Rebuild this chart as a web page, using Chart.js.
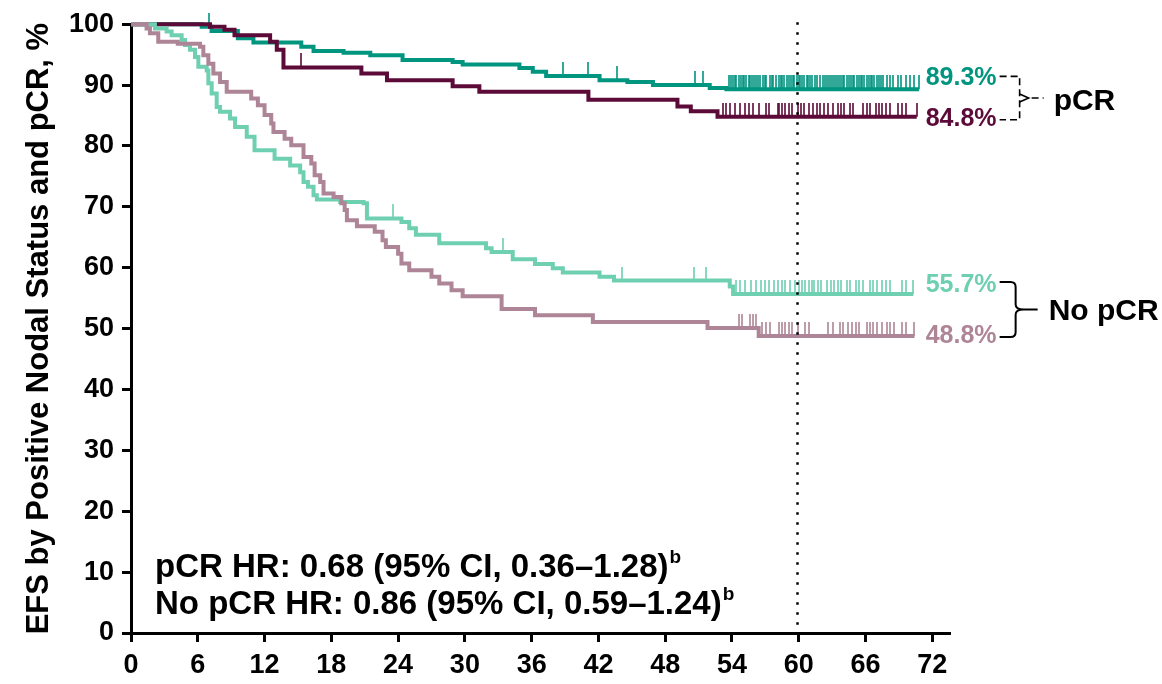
<!DOCTYPE html>
<html>
<head>
<meta charset="utf-8">
<script src="https://cdn.jsdelivr.net/npm/chart.js@4.4.1/dist/chart.umd.min.js"></script>
<style>
  html, body { margin: 0; padding: 0; background: #fff; }
  #wrap { width: 1162px; height: 684px; }
</style>
</head>
<body>
<div id="wrap"><canvas id="efsChart" width="1162" height="684"></canvas></div>
<script>
// axis ticks
let xTicks = [0, 6, 12, 18, 24, 30, 36, 42, 48, 54, 60, 66, 72];
let yTicks = [0, 10, 20, 30, 40, 50, 60, 70, 80, 90, 100];

// pCR, arm A (dark teal)
let pcrATimes = [0, 6.35, 7.24, 9.6, 11.0, 15.3, 16.4, 19.1, 21.5, 24.4, 28.9, 29.8, 34.9, 36.1, 37.3, 42.1, 44.6, 46.9, 52.0, 53.5, 70.8];
let pcrASurv  = [100, 99.6, 98.9, 97.7, 97.0, 96.3, 95.6, 95.3, 94.9, 94.1, 93.8, 93.4, 92.8, 92.2, 91.5, 90.8, 90.5, 90.0, 89.5, 89.3, 89.3];
let pcrACens  = [7.0, 38.8, 41.1, 43.7, 50.7, 51.4,
  53.7, 53.9, 54.1, 54.3, 54.4, 54.6, 54.8, 55.0, 55.1, 55.3, 55.5, 55.6, 55.8, 56.0, 56.2, 56.3, 56.5, 56.8, 57.0, 57.1,
  57.4, 57.6, 57.7, 58.0, 58.2, 58.4, 58.5, 58.7, 58.9, 59.1, 59.3, 59.5, 59.6, 59.8, 60.0, 60.1, 60.3, 60.5, 60.7, 60.8,
  61.0, 61.2, 61.5, 61.6, 61.9, 62.2, 62.4, 62.5, 62.7, 62.9, 63.1, 63.3, 63.4, 63.6, 63.8, 64.0, 64.1, 64.3, 64.5, 64.7,
  64.9, 65.0, 65.2, 65.4, 65.6, 65.7, 65.9, 66.1, 66.3, 66.5, 66.6, 66.8, 67.0, 67.2, 67.4, 67.6, 67.9, 68.2, 68.5, 68.9,
  69.2, 69.6, 70.0, 70.4, 70.8];

// pCR, arm B (maroon)
let pcrBTimes = [0, 7.1, 8.4, 9.3, 12.5, 13.1, 13.7, 20.7, 23.0, 28.9, 31.3, 41.1, 49.1, 50.3, 52.7, 70.6];
let pcrBSurv  = [100, 99.6, 99.1, 98.2, 97.1, 95.8, 92.9, 91.9, 90.8, 89.8, 88.9, 87.6, 86.5, 85.7, 84.8, 84.8];
let pcrBCens  = [15.3, 53.2, 53.5, 53.8, 54.3, 54.7, 55.2, 55.5, 55.9, 56.4, 57.1, 57.3, 58.1, 58.2, 58.5, 58.8, 59.1,
  59.4, 59.9, 60.2, 60.5, 60.9, 61.3, 61.6, 61.9, 62.3, 62.6, 63.1, 63.5, 63.8, 64.1, 64.6, 64.9, 65.8, 66.1, 66.4,
  66.9, 67.2, 67.5, 67.8, 68.2, 68.9, 69.3, 69.6, 70.6];

// No pCR, arm A (light teal)
let nopcrATimes = [0, 2.15, 3.2, 3.65, 4.55, 4.85, 5.3, 5.75, 6.05, 6.8, 6.95, 7.25, 7.7, 8.0, 8.9, 9.35, 10.4, 11.1,
  12.9, 14.3, 15.2, 15.5, 15.9, 16.4, 16.7, 18.8, 20.9, 21.2, 24.3, 25.0, 25.6, 27.7, 31.9, 32.4, 34.3, 36.3, 37.9,
  38.8, 42.1, 43.4, 53.8, 54.1, 70.3];
let nopcrASurv  = [100, 99.3, 98.8, 98.2, 97.4, 96.6, 95.8, 94.6, 93.0, 92.4, 90.3, 88.6, 86.4, 85.6, 84.5, 83.1, 81.5, 79.3,
  77.9, 76.8, 75.7, 74.1, 73.3, 71.9, 71.2, 70.8, 70.6, 68.1, 67.5, 66.5, 65.4, 64.0, 63.2, 62.6, 61.4, 60.6, 59.9,
  59.2, 58.5, 57.9, 56.9, 55.7, 55.7];
let nopcrACens  = [23.5, 33.4, 44.1, 50.6, 51.7, 54.4, 54.7, 55.2, 55.7, 56.2, 56.6, 57.0, 57.3, 57.8, 58.1, 58.5, 58.8,
  59.2, 59.7, 60.0, 60.3, 60.6, 60.9, 61.2, 61.4, 61.7, 62.0, 62.5, 62.9, 63.2, 63.5, 63.8, 64.3, 64.6, 65.1, 65.4,
  65.8, 66.4, 66.7, 67.0, 67.5, 67.8, 68.2, 69.3, 69.6, 70.3];

// No pCR, arm B (mauve)
let nopcrBTimes = [0, 1.4, 1.7, 2.45, 4.2, 6.2, 6.5, 6.95, 7.4, 8.0, 8.6, 10.8, 11.4, 12.0, 12.6, 12.8, 13.8, 14.4, 15.5,
  16.2, 16.5, 17.0, 17.3, 18.2, 18.9, 19.2, 19.4, 20.3, 21.9, 22.6, 22.9, 24.0, 24.3, 25.0, 27.0, 27.7, 28.8, 29.8,
  33.3, 36.3, 41.5, 51.8, 56.4, 70.4];
let nopcrBSurv  = [100, 99.3, 98.5, 97.1, 96.8, 96.3, 94.9, 93.5, 91.9, 90.5, 88.9, 87.8, 86.7, 85.1, 83.7, 82.3, 81.2, 80.1, 78.2,
  77.1, 75.2, 74.1, 72.2, 71.6, 70.6, 69.5, 67.8, 66.8, 65.9, 64.5, 63.4, 62.3, 60.7, 59.6, 58.5, 57.4, 56.3, 55.3,
  53.2, 52.2, 51.1, 50.1, 48.8, 48.8];
let nopcrBCens  = [54.6, 54.9, 55.6, 55.9, 56.2, 56.7, 57.1, 57.4, 58.2, 58.5, 58.8, 59.1, 59.4, 59.9, 60.6, 60.9, 62.6,
  63.1, 63.7, 64.0, 64.4, 64.8, 65.1, 65.4, 66.1, 66.4, 66.7, 67.0, 67.5, 67.9, 68.2, 68.6, 69.3, 69.6, 70.4];

let endLabels = ['89.3%', '84.8%', '55.7%', '48.8%'];
let endValues = [89.3, 84.8, 55.7, 48.8];
let hrLines = ['pCR HR: 0.68 (95% CI, 0.36\u20131.28)', 'No pCR HR: 0.86 (95% CI, 0.59\u20131.24)'];

const colors = ['#00957f', '#5c0a38', '#6fcfb1', '#ae8597'];
const FONT = "'Liberation Sans', Arial, sans-serif";

function toPoints(times, surv) {
    return times.map((t, i) => ({ x: t, y: surv[i] }));
}

function survAt(times, surv, t) {
    let s = surv[0];
    for (let i = 0; i < times.length; i++) {
        if (times[i] <= t) s = surv[i];
    }
    return s;
}

function censorPoints(cens, times, surv) {
    return cens.map(t => ({ x: t, y: survAt(times, surv, t) }));
}

// small vertical tick that sits on top of the curve
function tickImage(color, len) {
    let c = document.createElement('canvas');
    c.width = 2;
    c.height = len * 2;
    let g = c.getContext('2d');
    g.fillStyle = color;
    g.fillRect(0.2, 0, 1.6, len);
    return c;
}

function stepSet(times, surv, color) {
    return {
        type: 'line',
        data: toPoints(times, surv),
        borderColor: color,
        borderWidth: 4,
        stepped: true,
        pointRadius: 0,
        fill: false,
        clip: false
    };
}

function censorSet(cens, times, surv, color) {
    return {
        type: 'scatter',
        data: censorPoints(cens, times, surv),
        pointStyle: tickImage(color, 14),
        pointRadius: 6,
        showLine: false,
        clip: false
    };
}

const extras = {
    id: 'extras',
    afterDatasetsDraw(chart) {
        let ctx = chart.ctx;
        let xs = chart.scales.x, ys = chart.scales.y;
        let area = chart.chartArea;
        ctx.save();

        // dotted line at 60 months
        let x60 = Math.round(xs.getPixelForValue(60)) - 1.5;
        ctx.strokeStyle = '#000';
        ctx.lineWidth = 2.5;
        ctx.setLineDash([2.5, 7.5]);
        ctx.beginPath();
        ctx.moveTo(x60, area.top - 2);
        ctx.lineTo(x60, area.bottom);
        ctx.stroke();
        ctx.setLineDash([]);

        // end-of-curve labels
        let labelX = xs.getPixelForValue(71.4);
        let offs = [-11, 2, -9, 0];
        let labelY = endValues.map((v, i) => ys.getPixelForValue(v) + offs[i]);
        ctx.font = 'bold 25px ' + FONT;
        ctx.textAlign = 'left';
        ctx.textBaseline = 'middle';
        endLabels.forEach((t, i) => {
            ctx.fillStyle = colors[i];
            ctx.fillText(t, labelX, labelY[i]);
        });

        // dashed bracket for pCR
        let bx = labelX + 74, vx = labelX + 94;
        let top = labelY[0] - 2, bot = labelY[1] + 1, mid = (top + bot) / 2;
        ctx.strokeStyle = '#000';
        ctx.lineWidth = 1.6;
        ctx.setLineDash([7, 4]);
        ctx.beginPath();
        ctx.moveTo(bx, top); ctx.lineTo(vx, top); ctx.lineTo(vx, bot); ctx.lineTo(bx, bot);
        ctx.stroke();
        ctx.beginPath();
        ctx.moveTo(vx + 12, mid); ctx.lineTo(vx + 24, mid);
        ctx.stroke();
        ctx.setLineDash([]);
        ctx.beginPath();
        ctx.moveTo(vx, mid - 4); ctx.lineTo(vx + 9, mid); ctx.lineTo(vx, mid + 4);
        ctx.stroke();
        ctx.fillStyle = '#000';
        ctx.font = 'bold 30px ' + FONT;
        ctx.fillText('pCR', vx + 34, mid + 4);

        // curly brace for No pCR
        let cx = labelX + 90;
        let t2 = labelY[2] - 3, b2 = labelY[3] + 1, m2 = (t2 + b2) / 2;
        ctx.lineWidth = 2;
        ctx.beginPath();
        ctx.moveTo(bx, t2);
        ctx.lineTo(cx - 5, t2);
        ctx.quadraticCurveTo(cx, t2, cx, t2 + 5);
        ctx.lineTo(cx, m2 - 5);
        ctx.quadraticCurveTo(cx, m2, cx + 8, m2);
        ctx.quadraticCurveTo(cx, m2, cx, m2 + 5);
        ctx.lineTo(cx, b2 - 5);
        ctx.quadraticCurveTo(cx, b2, cx - 5, b2);
        ctx.lineTo(bx, b2);
        ctx.moveTo(cx + 8, m2);
        ctx.lineTo(cx + 22, m2);
        ctx.stroke();
        ctx.fillText('No pCR', cx + 33, m2 + 2);

        // hazard ratio text
        ctx.textBaseline = 'alphabetic';
        let hx = area.left + 24;
        [577, 614].forEach((y, i) => {
            ctx.font = 'bold 33px ' + FONT;
            ctx.fillText(hrLines[i], hx, y);
            let w = ctx.measureText(hrLines[i]).width;
            ctx.font = 'bold 19px ' + FONT;
            ctx.fillText('b', hx + w + 1, y - 14);
        });

        ctx.restore();
    }
};

new Chart(document.getElementById('efsChart'), {
    type: 'line',
    data: {
        datasets: [
            stepSet(nopcrBTimes, nopcrBSurv, colors[3]),
            stepSet(nopcrATimes, nopcrASurv, colors[2]),
            stepSet(pcrBTimes, pcrBSurv, colors[1]),
            stepSet(pcrATimes, pcrASurv, colors[0]),
            censorSet(nopcrBCens, nopcrBTimes, nopcrBSurv, colors[3]),
            censorSet(nopcrACens, nopcrATimes, nopcrASurv, colors[2]),
            censorSet(pcrBCens, pcrBTimes, pcrBSurv, colors[1]),
            censorSet(pcrACens, pcrATimes, pcrASurv, colors[0])
        ]
    },
    options: {
        responsive: false,
        animation: false,
        events: [],
        layout: { padding: { top: 24, right: 213, left: 0, bottom: 0 } },
        plugins: { legend: { display: false }, tooltip: { enabled: false } },
        scales: {
            x: {
                type: 'linear',
                min: 0,
                max: 73.5,
                afterBuildTicks: s => { s.ticks = xTicks.map(v => ({ value: v })); },
                afterFit: s => { s.height = 51; },
                border: { display: true, color: '#000', width: 3 },
                grid: { display: true, drawOnChartArea: false, drawTicks: true, tickLength: 9, color: '#000', lineWidth: 3 },
                ticks: { color: '#000', padding: 7, maxRotation: 0, autoSkip: false, font: { family: FONT, size: 27, weight: 'bold' } }
            },
            y: {
                min: 0,
                max: 100,
                afterBuildTicks: s => { s.ticks = yTicks.map(v => ({ value: v })); },
                afterFit: s => { s.width = 131; },
                border: { display: true, color: '#000', width: 3 },
                grid: { display: true, drawOnChartArea: false, drawTicks: true, tickLength: 9, color: '#000', lineWidth: 3 },
                ticks: { color: '#000', padding: 8, font: { family: FONT, size: 27, weight: 'bold' } },
                title: {
                    display: true,
                    text: 'EFS by Positive Nodal Status and pCR, %',
                    color: '#000',
                    padding: { top: 21, bottom: 0 },
                    font: { family: FONT, size: 31, weight: 'bold' }
                }
            }
        }
    },
    plugins: [extras]
});
</script>
</body>
</html>
